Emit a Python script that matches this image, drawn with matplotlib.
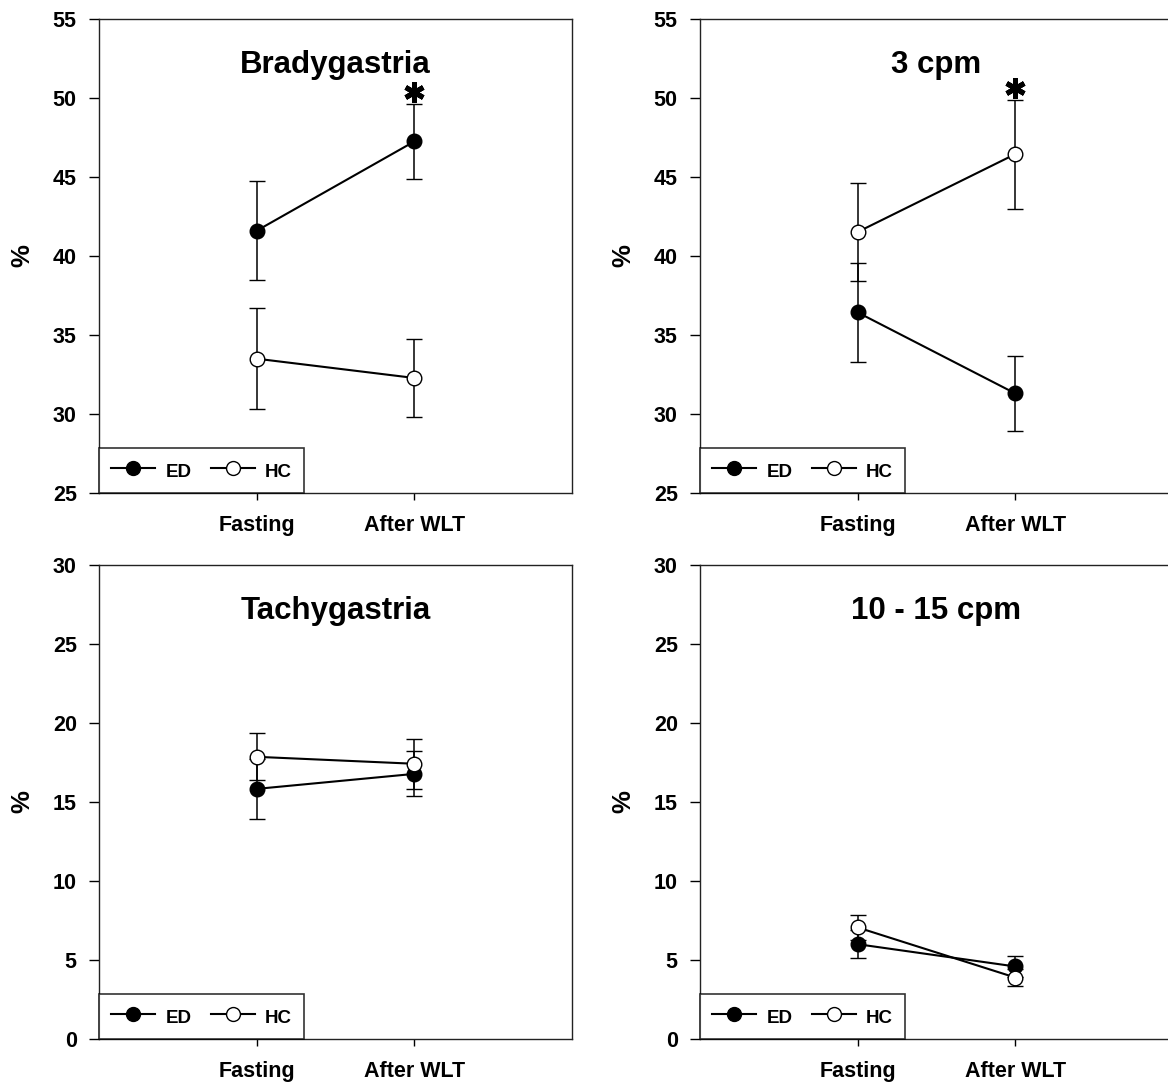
import matplotlib
matplotlib.use('Agg')
import matplotlib.pyplot as plt
from matplotlib.lines import Line2D
from matplotlib.markers import MarkerStyle
from matplotlib.transforms import offset_copy
import numpy as np

plt.rcParams['font.family'] = ['Liberation Sans', 'DejaVu Sans']
plt.rcParams['font.weight'] = 'bold'

conditions = ['Fasting', 'After WLT']
groups = ['ED', 'HC']

titles = ['Bradygastria', '3 cpm', 'Tachygastria', '10 - 15 cpm']
ylims = [(25, 55), (25, 55), (0, 30), (0, 30)]

# mean and SEM per panel, [Fasting, After WLT]
brady_ed = [41.6, 47.25]
brady_ed_err = [3.14, 2.4]
brady_hc = [33.5, 32.28]
brady_hc_err = [3.2, 2.47]

cpm3_ed = [36.43, 31.3]
cpm3_ed_err = [3.12, 2.37]
cpm3_hc = [41.52, 46.45]
cpm3_hc_err = [3.12, 3.45]

tachy_ed = [15.83, 16.78]
tachy_ed_err = [1.88, 1.43]
tachy_hc = [17.86, 17.42]
tachy_hc_err = [1.48, 1.58]

fast_ed = [6.0, 4.59]
fast_ed_err = [0.88, 0.69]
fast_hc = [7.06, 3.89]
fast_hc_err = [0.78, 0.54]

panels = [
    (brady_ed, brady_ed_err, brady_hc, brady_hc_err),
    (cpm3_ed, cpm3_ed_err, cpm3_hc, cpm3_hc_err),
    (tachy_ed, tachy_ed_err, tachy_hc, tachy_hc_err),
    (fast_ed, fast_ed_err, fast_hc, fast_hc_err),
]
# significance marks: (panel, group, condition index)
stars = [(0, 'ED', 1), (1, 'HC', 1)]

W, H = 1168, 1086
fig = plt.figure(figsize=(W/100, H/100), dpi=100)

boxes = [
    (99, 19), (700, 19),
    (99, 565), (700, 565),
]
aw, ah = 473, 474

x = np.arange(1, len(conditions) + 1)
star_marker = MarkerStyle((6, 2, 0), capstyle='round')

for i, (ed, ed_e, hc, hc_e) in enumerate(panels):
    left, top = boxes[i]
    ax = fig.add_axes([left/W, 1 - (top + ah)/H, aw/W, ah/H])

    ax.errorbar(x, ed, yerr=ed_e, color='black', lw=1.5, marker='o',
                ms=10.5, mfc='black', mec='black', mew=1,
                ecolor='black', elinewidth=1.1, capsize=5.5, capthick=1.1,
                zorder=3)
    ax.errorbar(x, hc, yerr=hc_e, color='black', lw=1.5, marker='o',
                ms=10.5, mfc='white', mec='black', mew=1,
                ecolor='black', elinewidth=1.1, capsize=5.5, capthick=1.1,
                zorder=4)

    for (p, g, c) in stars:
        if p == i:
            vals, errs = (ed, ed_e) if g == 'ED' else (hc, hc_e)
            tr = offset_copy(ax.transData, fig=fig, x=0, y=12, units='dots')
            ax.plot([x[c]], [vals[c] + errs[c]], marker=star_marker, ms=14.5,
                    mew=3.6, color='black', transform=tr, clip_on=False)

    ax.set_xlim(0, 3)
    ax.set_ylim(*ylims[i])
    lo, hi = ylims[i]
    ax.set_yticks(np.arange(lo, hi + 1, 5))
    ax.set_xticks(x)
    ax.set_xticklabels(conditions, fontsize=15.5, fontweight='bold')
    ax.tick_params(axis='y', direction='out', length=7, width=1, pad=9,
                   labelsize=15.5)
    ax.tick_params(axis='x', direction='out', length=5, width=1, pad=11)
    for lab in ax.get_yticklabels():
        lab.set_fontweight('bold')
    for s in ax.spines.values():
        s.set_linewidth(1.0)
        s.set_color('#222222')

    ax.set_ylabel('%', fontsize=18.5, fontweight='bold', labelpad=13)
    ax.text(0.5, 0.887, titles[i], transform=ax.transAxes, ha='center',
            va='baseline', fontsize=22.5, fontweight='bold')

    h1 = Line2D([], [], color='black', lw=1.5, marker='o', ms=10,
                mfc='black', mec='black', mew=1)
    h2 = Line2D([], [], color='black', lw=1.5, marker='o', ms=10,
                mfc='white', mec='black', mew=1)
    leg = ax.legend(handles=[h1, h2], labels=groups, loc='lower left', ncol=2,
                    bbox_to_anchor=(0, 0), borderaxespad=0, frameon=True,
                    fancybox=False, edgecolor='black', handlelength=2.35,
                    handleheight=1.3, handletextpad=0.55, columnspacing=1.0,
                    borderpad=0.66, prop={'size': 13.5, 'weight': 'bold'})
    leg.get_frame().set_linewidth(1.2)
    leg.set_zorder(10)

fig.savefig('out.png', dpi=100)
